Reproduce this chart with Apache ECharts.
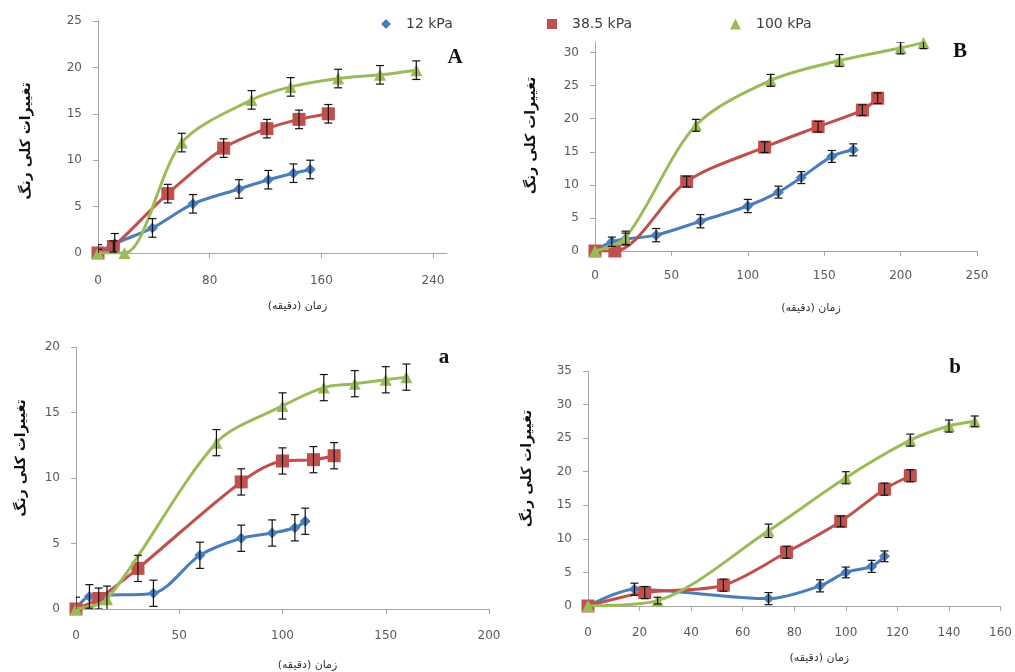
<!DOCTYPE html>
<html>
<head>
<meta charset="utf-8">
<script src="https://cdn.jsdelivr.net/npm/echarts@6/dist/echarts.min.js"></script>
<style>
  html, body { margin: 0; padding: 0; background: #fff; }
  #chart { width: 1015px; height: 672px; }
</style>
</head>
<body>
<div id="chart"></div>
<script>
// legend names
var seriesNames = ['12 kPa', '38.5 kPa', '100 kPa'];

// panel A
var A_t12 = [0, 12, 39, 68, 101, 122, 140, 152];
var A_v12 = [0, 1.0, 2.7, 5.3, 6.9, 7.9, 8.6, 9.0];
var A_e12 = [0.9, 1.1, 1.0, 1.0, 1.0, 1.0, 1.0, 1.0];
var A_t38 = [0, 11, 50, 90, 121, 144, 165];
var A_v38 = [0, 0.7, 6.4, 11.3, 13.4, 14.4, 15.0];
var A_e38 = [0.4, 0.6, 1.0, 1.0, 1.0, 1.0, 1.0];
var A_t100 = [0, 19, 60, 110, 138, 172, 202, 228];
var A_v100 = [0, 0, 11.9, 16.5, 17.9, 18.8, 19.2, 19.7];
var A_e100 = [0, 0, 1.0, 1.0, 1.0, 1.0, 1.0, 1.0];

// panel B
var B_t12 = [0, 11, 20, 40, 69, 100, 120, 135, 155, 169];
var B_v12 = [0, 1.4, 1.8, 2.4, 4.5, 6.8, 8.9, 11.1, 14.3, 15.3];
var B_e12 = [0, 0.7, 0.9, 1.0, 1.0, 1.0, 0.9, 0.9, 0.9, 0.9];
var B_t38 = [0, 13, 60, 111, 146, 175, 185];
var B_v38 = [0, 0, 10.5, 15.7, 18.8, 21.3, 23.1];
var B_e38 = [0, 0, 0.8, 0.8, 0.8, 0.8, 0.8];
var B_t100 = [0, 20, 66, 115, 160, 200, 215];
var B_v100 = [0, 2.0, 19.0, 25.8, 28.8, 30.7, 31.5];
var B_e100 = [0, 1.0, 0.9, 0.9, 0.9, 0.9, 0.9];

// panel a
var a_t12 = [0, 6.5, 37.5, 60, 80, 95, 106, 111];
var a_v12 = [0, 0.96, 1.2, 4.1, 5.4, 5.8, 6.2, 6.7];
var a_e12 = [0.9, 0.9, 1.0, 1.0, 1.0, 1.0, 1.0, 1.0];
var a_t38 = [0, 11, 30, 80, 100, 115, 125];
var a_v38 = [0, 0.8, 3.1, 9.7, 11.3, 11.4, 11.7];
var a_e38 = [0, 0.8, 1.0, 1.0, 1.0, 1.0, 1.0];
var a_t100 = [0, 15, 68, 100, 120, 135, 150, 160];
var a_v100 = [0, 0.75, 12.7, 15.5, 16.9, 17.2, 17.5, 17.7];
var a_e100 = [0, 1.0, 1.0, 1.0, 1.0, 1.0, 1.0, 1.0];

// panel b
var b_t12 = [0, 18, 70, 90, 100, 110, 115];
var b_v12 = [0, 2.5, 1.1, 3.0, 5.0, 5.9, 7.4];
var b_e12 = [0, 0.9, 0.9, 0.9, 0.8, 0.9, 0.8];
var b_t38 = [0, 22, 52.5, 77, 98, 115, 125];
var b_v38 = [0, 2.0, 3.1, 8.0, 12.6, 17.4, 19.4];
var b_e38 = [0, 0.9, 0.9, 0.9, 0.8, 0.9, 0.9];
var b_t100 = [0, 27, 70, 100, 125, 140, 150];
var b_v100 = [0, 0.8, 11.2, 19.1, 24.7, 26.8, 27.5];
var b_e100 = [0, 0.5, 1.0, 0.9, 0.9, 0.9, 0.8];

// axis ticks
var A_xTicks = [0, 80, 160, 240];
var A_yTicks = [0, 5, 10, 15, 20, 25];
var B_xTicks = [0, 50, 100, 150, 200, 250];
var B_yTicks = [0, 5, 10, 15, 20, 25, 30];
var a_xTicks = [0, 50, 100, 150, 200];
var a_yTicks = [0, 5, 10, 15, 20];
var b_xTicks = [0, 20, 40, 60, 80, 100, 120, 140, 160];
var b_yTicks = [0, 5, 10, 15, 20, 25, 30, 35];

var yTitle = 'تغییرات کلی رنگ';
var xTitle = 'زمان (دقیقه)';

var colors = ['#4A7EBB', '#C0504D', '#9BBB59'];
var symbols = ['diamond', 'rect', 'triangle'];
var sizes = [11, 13, 12];

var panels = [
    {label: 'A', grid: {left: 98, top: 21, width: 349, height: 232},
     xMax: 250, yMax: 25, xTicks: A_xTicks, yTicks: A_yTicks,
     xGap: 48, xMargin: 22, yGap: 65, yPad: [0, 8, 0, 0],
     t: [A_t12, A_t38, A_t100], v: [A_v12, A_v38, A_v100], e: [A_e12, A_e38, A_e100],
     labelPos: [455, 58]},
    {label: 'B', grid: {left: 595, top: 42, width: 382, height: 209},
     xMax: 250, yMax: 31.6, xTicks: B_xTicks, yTicks: B_yTicks,
     xGap: 52, xMargin: 19, yGap: 57, yPad: [0, 0, 0, 22],
     t: [B_t12, B_t38, B_t100], v: [B_v12, B_v38, B_v100], e: [B_e12, B_e38, B_e100],
     labelPos: [960, 52]},
    {label: 'a', grid: {left: 76, top: 347, width: 413, height: 263},
     xMax: 200, yMax: 20, xTicks: a_xTicks, yTicks: a_yTicks,
     xGap: 51, xMargin: 21, yGap: 48, yPad: [0, 0, 0, 40],
     t: [a_t12, a_t38, a_t100], v: [a_v12, a_v38, a_v100], e: [a_e12, a_e38, a_e100],
     labelPos: [444, 358]},
    {label: 'b', grid: {left: 588, top: 371, width: 417, height: 235},
     xMax: 160, yMax: 35, xTicks: b_xTicks, yTicks: b_yTicks,
     xGap: 47, xMargin: 21, yGap: 54, yPad: [0, 0, 0, 40],
     t: [b_t12, b_t38, b_t100], v: [b_v12, b_v38, b_v100], e: [b_e12, b_e38, b_e100],
     labelPos: [955, 368]}
];

var axisLineStyle = {lineStyle: {color: '#a6a6a6', width: 1}};
var tickLabel = {color: '#595959', fontFamily: 'DejaVu Sans', fontSize: 12};

function errorBars(params, api) {
    var x = api.value(0), y = api.value(1), e = api.value(2);
    if (!e) return null;
    var top = api.coord([x, y + e]);
    var bot = api.coord([x, y - e]);
    var w = 4;
    var st = {stroke: '#111', lineWidth: 1.2};
    return {
        type: 'group',
        children: [
            {type: 'line', shape: {x1: top[0], y1: top[1], x2: bot[0], y2: bot[1]}, style: st},
            {type: 'line', shape: {x1: top[0] - w, y1: top[1], x2: top[0] + w, y2: top[1]}, style: st},
            {type: 'line', shape: {x1: bot[0] - w, y1: bot[1], x2: bot[0] + w, y2: bot[1]}, style: st}
        ]
    };
}

var grids = [], xAxes = [], yAxes = [], series = [], graphics = [];

panels.forEach(function (p, k) {
    grids.push(p.grid);
    xAxes.push({
        type: 'value', gridIndex: k, min: 0, max: p.xMax,
        name: xTitle, nameLocation: 'middle', nameGap: p.xGap,
        nameTextStyle: {fontFamily: 'DejaVu Sans', fontSize: 11, color: '#333', padding: [0, 0, 0, 50]},
        axisLine: axisLineStyle,
        axisTick: {show: true, length: 5, lineStyle: {color: '#a6a6a6'}, customValues: p.xTicks},
        axisLabel: Object.assign({margin: p.xMargin, customValues: p.xTicks}, tickLabel),
        splitLine: {show: false}
    });
    yAxes.push({
        type: 'value', gridIndex: k, min: 0, max: p.yMax,
        name: yTitle, nameLocation: 'middle', nameGap: p.yGap,
        nameTextStyle: {fontFamily: 'DejaVu Sans', fontSize: 14, fontWeight: 'bold', color: '#111',
                        padding: p.yPad},
        axisLine: {show: true, lineStyle: {color: '#a6a6a6', width: 1}},
        axisTick: {show: true, length: 5, lineStyle: {color: '#a6a6a6'}, customValues: p.yTicks},
        axisLabel: Object.assign({margin: 16, customValues: p.yTicks}, tickLabel),
        splitLine: {show: false}
    });
    for (var s = 0; s < 3; s++) {
        var t = p.t[s], v = p.v[s], e = p.e[s];
        series.push({
            type: 'line', name: seriesNames[s], xAxisIndex: k, yAxisIndex: k,
            data: t.map(function (x, i) { return [x, v[i]]; }),
            smooth: 0.3, symbol: symbols[s], symbolSize: sizes[s],
            lineStyle: {color: colors[s], width: 3},
            itemStyle: {color: colors[s]},
            z: 2 + s
        });
        series.push({
            type: 'custom', name: seriesNames[s], xAxisIndex: k, yAxisIndex: k,
            renderItem: errorBars, clip: true,
            data: t.map(function (x, i) { return [x, v[i], e[i]]; }),
            z: 10, silent: true
        });
    }
    graphics.push({
        type: 'text', x: p.labelPos[0], y: p.labelPos[1],
        style: {text: p.label, font: 'bold 21px "Liberation Serif"', fill: '#111',
                textAlign: 'center', textVerticalAlign: 'middle'}
    });
});

function legendAt(i, left, size) {
    return {
        data: [seriesNames[i]], left: left, top: 12,
        itemWidth: size, itemHeight: size, icon: symbols[i],
        textStyle: {fontFamily: 'DejaVu Sans', fontSize: 14, color: '#404040', padding: [0, 0, 0, 10]}
    };
}

var option = {
    animation: false,
    legend: [legendAt(0, 376, 10), legendAt(1, 542, 10), legendAt(2, 725, 11)],
    grid: grids,
    xAxis: xAxes,
    yAxis: yAxes,
    series: series,
    graphic: graphics
};

var myChart = echarts.init(document.getElementById('chart'));
myChart.setOption(option);
</script>
</body>
</html>
